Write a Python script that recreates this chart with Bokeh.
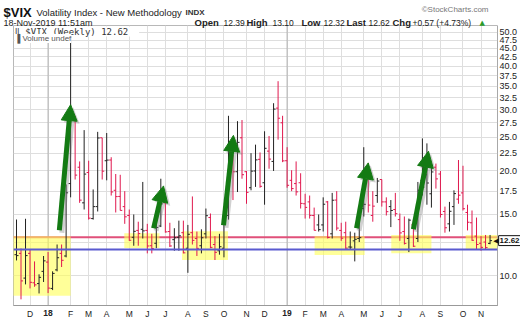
import numpy as np
import pandas as pd
from bokeh.plotting import figure
from bokeh.core.properties import value
from bokeh.models import (Range1d, FixedTicker, PrintfTickFormatter, ColumnDataSource,
                          Span, BoxAnnotation, Arrow, NormalHead, Label)
from bokeh.embed import file_html
from bokeh.resources import INLINE

# ---------------- data (weekly $VIX bars) ----------------
week_start = pd.date_range("2017-11-13", periods=106, freq="W-MON")
prev_close = 11.29
opens = [11.50, 11.60, 9.85, 11.60, 9.55, 9.50, 10.30, 10.95, 9.20, 10.40,
         11.60, 11.40, 18.40, 28.40, 20.50, 16.20, 19.80, 14.60, 15.80, 24.90,
         21.40, 21.50, 17.60, 16.90, 15.80, 14.90, 12.90, 13.50, 13.60, 13.50,
         12.20, 12.40, 13.90, 16.20, 13.40, 12.70, 12.90, 13.30, 12.00, 13.30,
         12.80, 12.20, 13.20, 14.70, 12.30, 11.80, 12.00, 14.90, 21.50, 19.90,
         24.90, 19.90, 17.90, 20.00, 21.60, 18.50, 22.80, 21.30, 30.30, 27.50,
         21.40, 18.80, 18.40, 18.50, 16.10, 16.30, 14.90, 14.00, 14.00, 16.30,
         13.20, 16.50, 13.50, 13.30, 12.10, 12.60, 12.80, 15.60, 19.60, 14.90,
         17.00, 18.90, 16.30, 15.80, 15.50, 14.50, 13.40, 12.80, 14.00, 12.80,
         18.80, 19.50, 17.20, 20.50, 19.60, 15.30, 14.10, 15.80, 16.60, 17.30,
         15.20, 14.20, 13.00, 12.40, 12.50, 12.39]
highs = [14.51, 11.98, 14.58, 11.90, 11.00, 10.10, 11.40, 11.70, 10.30, 12.30,
         12.30, 18.30, 50.30, 28.80, 21.30, 26.20, 21.40, 17.70, 25.90, 24.90,
         25.70, 21.90, 19.60, 19.50, 17.50, 15.50, 15.00, 14.30, 18.60, 14.10,
         13.20, 14.40, 19.00, 16.60, 14.20, 13.70, 14.40, 14.40, 14.00, 16.90,
         13.40, 13.60, 15.60, 15.10, 13.00, 13.20, 15.80, 28.80, 22.20, 27.80,
         28.00, 20.00, 22.50, 23.80, 22.60, 26.00, 25.20, 31.30, 36.20, 28.80,
         23.40, 20.10, 21.30, 19.70, 17.20, 17.00, 15.70, 15.00, 16.80, 16.40,
         17.30, 17.50, 14.20, 14.30, 13.40, 13.30, 15.00, 23.40, 21.10, 17.50,
         19.10, 18.90, 16.80, 16.50, 17.30, 15.10, 14.80, 14.60, 14.50, 18.60,
         24.80, 24.00, 20.70, 21.00, 20.00, 15.80, 16.30, 17.60, 21.50, 20.70,
         16.00, 15.40, 14.70, 13.00, 13.10, 13.10]
lows = [11.07, 8.56, 9.45, 9.20, 9.30, 8.90, 9.60, 8.92, 9.10, 10.30,
        10.60, 11.30, 16.80, 18.90, 16.20, 15.50, 14.50, 14.50, 15.30, 18.90,
        18.80, 17.00, 15.20, 15.40, 14.10, 12.60, 12.20, 12.20, 12.80, 11.60,
        11.60, 12.00, 13.80, 13.30, 12.10, 11.80, 11.80, 11.60, 10.20, 12.30,
        11.40, 11.60, 12.80, 12.00, 11.10, 11.50, 11.30, 14.50, 16.50, 17.40,
        19.00, 16.10, 17.60, 18.00, 17.90, 16.00, 20.30, 20.00, 24.60, 21.20,
        17.90, 17.50, 17.00, 15.60, 14.60, 14.60, 13.50, 13.40, 13.40, 12.80,
        12.80, 13.50, 12.60, 11.90, 11.90, 11.00, 12.50, 14.80, 15.20, 14.30,
        16.20, 15.80, 14.90, 13.80, 14.80, 12.60, 12.30, 11.70, 12.10, 12.50,
        17.00, 16.00, 15.70, 17.80, 14.70, 13.30, 13.40, 14.00, 16.10, 15.40,
        13.50, 12.60, 11.90, 11.80, 11.90, 12.32]
closes = [11.43, 9.67, 11.43, 9.58, 9.42, 9.90, 11.04, 9.22, 10.16, 11.27,
          11.08, 17.31, 29.06, 19.46, 16.49, 19.59, 14.64, 15.80, 24.87, 19.97,
          21.49, 17.41, 16.88, 15.41, 14.77, 12.65, 13.42, 13.22, 13.46, 12.18,
          11.98, 13.77, 16.09, 13.37, 12.18, 12.86, 13.03, 11.64, 13.16, 12.64,
          11.99, 12.86, 14.88, 12.07, 11.68, 12.12, 14.82, 21.31, 19.89, 24.16,
          19.51, 17.36, 19.98, 21.52, 18.07, 23.23, 21.63, 30.11, 28.34, 21.38,
          18.19, 17.80, 17.42, 16.14, 15.72, 14.91, 13.51, 13.57, 16.05, 12.88,
          16.48, 13.71, 12.82, 12.01, 12.09, 12.73, 12.87, 16.04, 15.96, 15.85,
          18.71, 16.30, 15.28, 15.40, 15.08, 13.28, 12.39, 14.45, 12.16, 17.61,
          17.97, 18.47, 19.87, 18.98, 15.00, 13.74, 15.32, 17.22, 17.04, 15.58,
          14.25, 12.65, 12.30, 12.07, 12.05, 12.62]

y_ticks = [10.0, 12.5, 15.0, 17.5, 20.0, 22.5, 25.0, 27.5, 30.0, 32.5,
           35.0, 37.5, 40.0, 42.5, 45.0, 47.5, 50.0]
month_letters = ["J", "F", "M", "A", "M", "J", "J", "A", "S", "O", "N", "D"]

red_level = 12.9
blue_level = 11.9

# highlighted zones: week index span and value span
zone_left = [-1.3, 23.9, 36.7, 66.1, 83.1, 99.6]
zone_right = [12.0, 31.7, 46.9, 77.2, 92.0, 107.0]
zone_bottom = [8.77, 12.01, 11.10, 11.47, 11.60, 11.87]
zone_top = [12.99, 13.24, 13.42, 12.99, 13.10, 13.10]

# green arrows: tail (week index, value) -> tip (week index, value)
arrow_x0 = [9.5, 30.4, 45.9, 75.4, 88.0]
arrow_v0 = [13.51, 13.69, 13.96, 13.69, 13.60]
arrow_x1 = [12.0, 32.6, 48.1, 78.0, 91.35]
arrow_v1 = [31.0, 18.12, 25.3, 21.09, 22.79]

# ---------------- derived ----------------
n = len(closes)
idx = np.arange(n)
prev = [prev_close] + closes[:-1]
colors = ["#222222" if c > pc else "#e0184e" for c, pc in zip(closes, prev)]

month_ticks, overrides, year_ticks, year_text = [], {}, [], []
for i in range(1, n):
    if week_start[i].month != week_start[i - 1].month:
        month_ticks.append(i)
        if week_start[i].month == 1:
            overrides[i] = ""
            year_ticks.append(i)
            year_text.append(week_start[i].strftime("%y"))
        else:
            overrides[i] = month_letters[week_start[i].month - 1]

FONT = "Liberation Sans"

# ---------------- figure geometry ----------------
W, H = 520, 321
L, T, R, B = 13, 25, 497, 308
px_per_week = 4.51
first_x = 16
ppl = 152.9      # pixels per ln unit on the log axis
y10 = 278        # pixel row of 10.0
x0 = (L - first_x) / px_per_week
x1 = (R - first_x) / px_per_week
y_lo = 10 * np.exp(-(B - y10) / ppl)
y_hi = 10 * np.exp((y10 - T) / ppl)


def dx_of(cx):
    return (cx - first_x) / px_per_week


def dy_of(cy):
    return 10 * np.exp((y10 - cy) / ppl)


p = figure(width=W, height=H, x_range=Range1d(x0, x1), y_range=Range1d(y_lo, y_hi),
           y_axis_type="log", y_axis_location="right",
           output_backend="svg", toolbar_location=None,
           min_border_left=L, min_border_right=W - R, min_border_top=T,
           min_border_bottom=H - B)
p.background_fill_color = "white"
p.border_fill_color = "white"
p.outline_line_color = "#b8b8b8"

p.yaxis.ticker = FixedTicker(ticks=y_ticks)
p.yaxis.formatter = PrintfTickFormatter(format="%.1f")
p.yaxis.major_tick_out = 0
p.yaxis.major_tick_in = 0
p.yaxis.minor_tick_out = 0
p.yaxis.minor_tick_in = 0
p.yaxis.major_label_standoff = 2
p.yaxis.major_label_text_font = FONT
p.yaxis.major_label_text_font_size = "9px"
p.yaxis.major_label_text_color = "#222222"
p.yaxis.axis_line_color = "#999999"
p.yaxis.axis_line_dash = "1 1"

p.xaxis.ticker = FixedTicker(ticks=month_ticks)
p.xaxis.major_label_overrides = overrides
p.xaxis.major_tick_out = 0
p.xaxis.major_tick_in = 0
p.xaxis.minor_tick_out = 0
p.xaxis.minor_tick_in = 0
p.xaxis.major_label_standoff = 3
p.xaxis.major_label_text_font = FONT
p.xaxis.major_label_text_font_size = "8.5px"
p.xaxis.major_label_text_color = "#222222"
p.xaxis.axis_line_color = "#999999"

p.xgrid.ticker = FixedTicker(ticks=month_ticks)
p.xgrid.grid_line_color = "#dedede"
p.ygrid.ticker = FixedTicker(ticks=y_ticks)
p.ygrid.grid_line_color = "#dedede"

for i in year_ticks:
    p.add_layout(Span(location=i, dimension="height", line_color="#b0b0b0",
                      line_width=1, level="underlay"))

p.add_layout(Span(location=red_level, dimension="width", line_color="#e0507a",
                  line_width=2, level="underlay"))
for l, r, b, t in zip(zone_left, zone_right, zone_bottom, zone_top):
    p.add_layout(BoxAnnotation(left=l, right=r, bottom=b, top=t, fill_color="#ffff55",
                               fill_alpha=0.6, line_alpha=0, level="underlay"))

src = ColumnDataSource(dict(x=idx, xl=idx - 0.45, xr=idx + 0.45, o=opens, h=highs,
                            l=lows, c=closes, color=colors))
p.segment(x0="x", y0="l", x1="x", y1="h", line_color="color", line_width=1, source=src)
p.segment(x0="xl", y0="o", x1="x", y1="o", line_color="color", line_width=1, source=src)
p.segment(x0="x", y0="c", x1="xr", y1="c", line_color="color", line_width=1, source=src)

p.add_layout(Span(location=blue_level, dimension="width", line_color="#5a5ad0",
                  line_width=2))

sdx = 2.5 / px_per_week
sfy = np.exp(-2.5 / ppl)
for a, b, c, d in zip(arrow_x0, arrow_v0, arrow_x1, arrow_v1):
    p.add_layout(Arrow(x_start=a + sdx, y_start=b * sfy, x_end=c + sdx, y_end=d * sfy,
                       line_color="#777777", line_alpha=0.35, line_width=5,
                       end=NormalHead(size=16, fill_color="#777777", fill_alpha=0.35,
                                      line_alpha=0)))
for a, b, c, d in zip(arrow_x0, arrow_v0, arrow_x1, arrow_v1):
    p.add_layout(Arrow(x_start=a, y_start=b, x_end=c, y_end=d,
                       line_color="#137a13", line_width=5,
                       end=NormalHead(size=16, fill_color="#137a13",
                                      line_color="#137a13", line_width=1)))


def lab(cx, cy, text, size, color="#222222", font=FONT, **kw):
    p.add_layout(Label(x=cx - L, y=B - cy, x_units="screen", y_units="screen",
                       text=text, text_font=font, text_font_size=size,
                       text_color=color, text_align="left", text_baseline="alphabetic",
                       **kw))


# legend inside the frame
lab(14, 34, " \u2016 $VIX (Weekly) 12.62 ", "9px", color="#333333",
    font="DejaVu Sans Mono", background_fill_color="white")
lab(14, 41, "\u2590 Volume undef", "8px", color="#555555", background_fill_color="white")


def otxt(cx, cy, t, size, bold=False, color="#222222", align="left",
         baseline="alphabetic", font=FONT):
    """Text outside the frame (overlay level is not clipped to the frame)."""
    p.text(x=[dx_of(cx)], y=[dy_of(cy)], text=[t], level="overlay",
           text_font=value(font), text_font_size=size,
           text_font_style="bold" if bold else "normal", text_color=color,
           text_align=align, text_baseline=baseline)


# header
otxt(3, 12, "$VIX", "13px", bold=True, color="#111111")
otxt(36, 12, "Volatility Index - New Methodology", "9.5px")
otxt(185, 12, "INDX", "8px", bold=True, color="#333333")
otxt(488, 9, "\u00a9StockCharts.com", "8px", color="#777777", align="right")
otxt(3, 22, "18-Nov-2019 11:51am", "9px")
hdr = [(194, "Open", True), (223, "12.39", False), (246, "High", True),
       (272, "13.10", False), (301, "Low", True), (323, "12.32", False),
       (346, "Last", True), (368, "12.62", False), (392, "Chg", True),
       (412, "+0.57 (+4.73%)", False)]
for cx, t, bld in hdr:
    otxt(cx, 22, t, "9.5px" if bld else "8.5px", bold=bld)
otxt(479, 22, "\u25b2", "7px", color="#2a9a2a", font="DejaVu Sans")

# bold year labels under the axis
p.text(x=year_ticks, y=[dy_of(316)] * len(year_ticks), text=year_text, level="overlay",
       text_font=value(FONT), text_font_size="8.5px", text_font_style="bold",
       text_color="#222222", text_align="center", text_baseline="middle")

# last-value tag at the right axis
last = closes[-1]
tag_x = x1 + 0.3
p.quad(left=[tag_x - 0.05], right=[tag_x + 6], bottom=[last * np.exp(-5 / ppl)],
       top=[last * np.exp(5 / ppl)], level="overlay", fill_color="white",
       line_color="#111111", line_width=1)
p.text(x=[tag_x + 0.15], y=[last], text=["%.2f" % last], level="overlay",
       text_font=value(FONT), text_font_size="8px", text_font_style="bold",
       text_color="#111111", text_align="left", text_baseline="middle")
p.text(x=[tag_x - 0.05], y=[last], text=["\u25c0"], level="overlay",
       text_font=value("DejaVu Sans"), text_font_size="7px",
       text_color="#111111", text_align="right", text_baseline="middle")

open("out.html", "w").write(file_html(p, INLINE))
